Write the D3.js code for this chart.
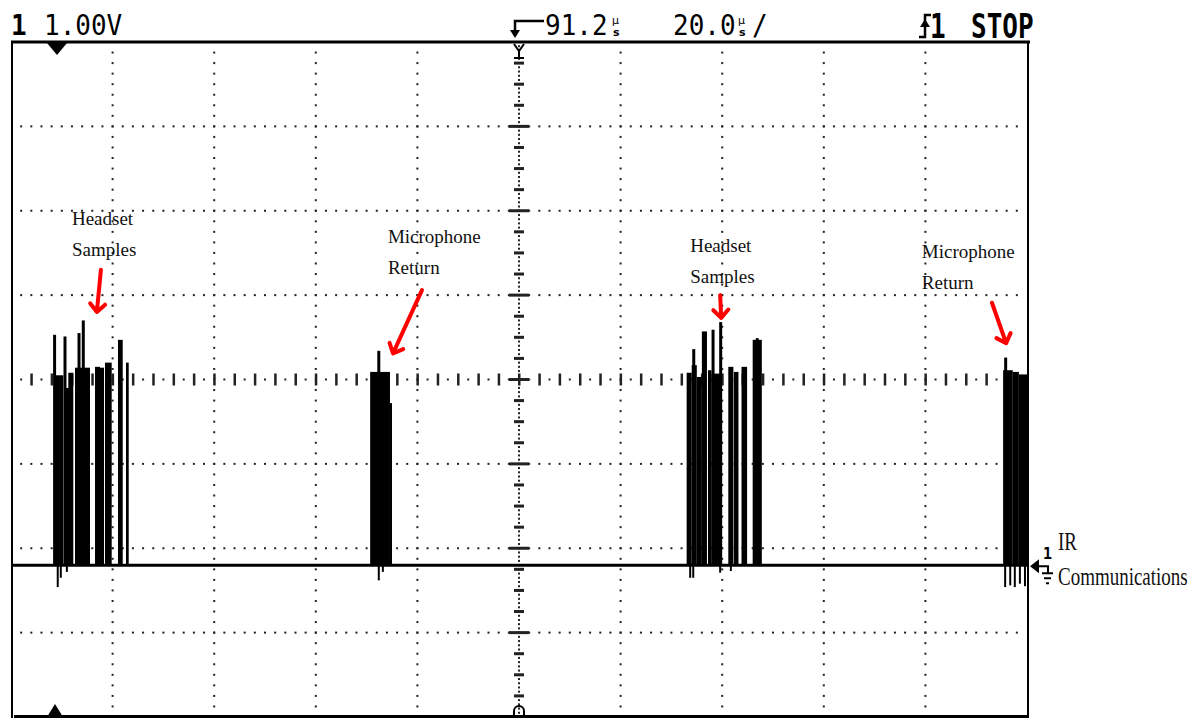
<!DOCTYPE html>
<html>
<head>
<meta charset="utf-8">
<script src="https://cdn.jsdelivr.net/npm/d3@7"></script>
<style>
  body { margin: 0; background: #fff; }
  .label { font-family: "Liberation Serif", "Times New Roman", serif; font-size: 19px; fill: #111; }
  .hdr { font-family: "DejaVu Sans Mono", monospace; font-size: 26px; fill: #000; }
</style>
</head>
<body>
<div id="container"></div>
<script>
/* SCOPE SETTINGS - 20 us/div, 91.2 us delay, 1.00 V/div */
const timeRange = [-8.8, 191.2];
const voltRange = [-1.8, 6.2];
const timeDivs = d3.range(1, 10).map(k => -8.8 + 20 * k);
const voltDivs = d3.range(1, 8).map(k => -1.8 + k);
const centerTime = 91.2;
const centerVolt = 2.2;

/* PULSE BLOCKS: [start us, end us, top V] */
const pulses = [
  // headset samples 1
  [-0.14, 1.50, 2.25], [1.83, 2.81, 2.10], [2.48, 3.46, 2.28], [3.80, 6.75, 2.34],
  [7.74, 8.72, 2.35], [8.72, 9.51, 2.34], [9.70, 11.02, 2.40], [12.26, 13.19, 2.67],
  [13.84, 14.37, 2.40],
  // microphone return 1
  [61.9, 65.8, 2.29], [65.8, 66.2, 1.92],
  // headset samples 2
  [124.2, 125.2, 2.28], [125.2, 126.2, 2.37], [126.2, 127.2, 2.23], [127.2, 128.2, 2.77],
  [128.4, 129.1, 2.31], [129.1, 131.1, 2.27], [132.4, 133.4, 2.35], [133.5, 134.4, 2.29],
  [135.0, 136.1, 2.35], [137.2, 139.0, 2.67],
  // microphone return 2
  [186.5, 188.4, 2.31], [188.4, 189.6, 2.29], [189.6, 191.2, 2.26]
];

/* NARROW SPIKES: [time us, top V] */
const spikes = [
  [-0.22, 2.73], [1.83, 2.71], [4.59, 2.75], [5.43, 2.90],
  [63.6, 2.54],
  [125.6, 2.56], [129.4, 2.79], [130.9, 2.88], [138.1, 2.69],
  [187.0, 2.46]
];

/* UNDERSHOOTS: [time us, bottom V] */
const dips = [
  [0.4, -0.26], [1.0, -0.15], [2.2, -0.08],
  [63.6, -0.18], [64.4, -0.08],
  [124.9, -0.15], [125.5, -0.15], [130.8, -0.09], [132.9, -0.07],
  [186.9, -0.26], [187.9, -0.24], [188.8, -0.26], [189.8, -0.22], [190.8, -0.25]
];

/* ANNOTATIONS */
const labelText = [["Headset", "Samples"], ["Microphone", "Return"], ["Headset", "Samples"], ["Microphone", "Return"]];
const labelTime = [3.2, 65.4, 124.9, 170.5];
const labelVolt = [4.03, 3.82, 3.71, 3.64];
// [from t, from V, to t, to V]
const arrows = [[8.9, 3.50, 8.1, 3.00], [72.1, 3.26, 66.4, 2.51], [130.8, 3.20, 131.0, 2.93], [184.3, 3.11, 187.1, 2.63]];
const headerText = ["1", "1.00V", "91.2", "20.0", "STOP"];
const groundText = ["IR", "Communications"];

const W = 1199, H = 719;
const x = d3.scaleLinear().domain(timeRange).range([11, 1027]);
const y = d3.scaleLinear().domain(voltRange).range([717, 42]);

const svg = d3.select("#container").append("svg")
  .attr("width", W).attr("height", H);
svg.append("rect").attr("width", W).attr("height", H).attr("fill", "#fff");

/* GRID DOTS */
const grid = svg.append("g").attr("fill", "#222");
voltDivs.forEach(v => {
  if (Math.abs(v - centerVolt) < 1e-6) return;
  grid.selectAll(null).data(d3.range(timeRange[0] + 2, timeRange[1], 2)).join("rect")
    .attr("x", t => x(t) - 1).attr("y", y(v) - 1).attr("width", 2).attr("height", 2);
});
timeDivs.forEach(t => {
  if (Math.abs(t - centerTime) < 1e-6) return;
  grid.selectAll(null).data(d3.range(voltRange[0] + 0.125, voltRange[1], 0.125)).join("rect")
    .attr("x", x(t) - 1).attr("y", v => y(v) - 1).attr("width", 2).attr("height", 2);
});

/* CENTER AXES WITH TICKS */
const isDiv = v => Math.abs(v - Math.round(v + 1.8) + 1.8) < 1e-6;
grid.selectAll(null).data(d3.range(timeRange[0] + 4, timeRange[1], 4)).join("rect")
  .attr("x", t => x(t) - 1).attr("y", y(centerVolt) - 6).attr("width", 2.5).attr("height", 12);
grid.selectAll(null).data(d3.range(timeRange[0] + 2, timeRange[1], 4)).join("rect")
  .attr("x", t => x(t) - 1).attr("y", y(centerVolt) - 1).attr("width", 2).attr("height", 2);
grid.selectAll(null).data(d3.range(voltRange[0] + 0.05, voltRange[1], 0.05)).join("rect")
  .attr("x", x(centerTime) - 1).attr("y", v => y(v) - 1).attr("width", 2).attr("height", 2);
grid.selectAll(null).data(d3.range(voltRange[0] + 0.25, voltRange[1], 0.25)).join("rect")
  .attr("x", v => x(centerTime) - (isDiv(v) ? 10 : 5))
  .attr("y", v => y(v) - 1.5)
  .attr("width", v => isDiv(v) ? 20 : 10)
  .attr("height", 3);

/* TRACE */
const trace = svg.append("g").attr("fill", "#000").attr("stroke", "#000");
trace.append("line")
  .attr("x1", x(timeRange[0])).attr("x2", x(timeRange[1]))
  .attr("y1", y(0)).attr("y2", y(0)).attr("stroke-width", 3);
trace.selectAll(".pulse").data(pulses).join("rect")
  .attr("class", "pulse").attr("stroke", "none")
  .attr("x", d => x(d[0])).attr("width", d => x(d[1]) - x(d[0]))
  .attr("y", d => y(d[2])).attr("height", d => y(0) - y(d[2]));
trace.selectAll(".spike").data(spikes).join("line")
  .attr("class", "spike").attr("stroke-width", 3)
  .attr("x1", d => x(d[0])).attr("x2", d => x(d[0]))
  .attr("y1", y(0)).attr("y2", d => y(d[1]));
trace.selectAll(".dip").data(dips).join("line")
  .attr("class", "dip").attr("stroke-width", 2)
  .attr("x1", d => x(d[0])).attr("x2", d => x(d[0]))
  .attr("y1", y(0)).attr("y2", d => y(d[1]));

/* FRAME */
const frame = svg.append("g").attr("stroke", "#000").attr("fill", "none");
frame.append("line").attr("x1", 11).attr("x2", 1030).attr("y1", 42).attr("y2", 42).attr("stroke-width", 3);
frame.append("line").attr("x1", 14).attr("x2", 1029).attr("y1", 716.5).attr("y2", 716.5).attr("stroke-width", 3);
frame.append("line").attr("x1", 12).attr("x2", 12).attr("y1", 42).attr("y2", 718).attr("stroke-width", 2);
frame.append("line").attr("x1", 1028).attr("x2", 1028).attr("y1", 42).attr("y2", 718).attr("stroke-width", 2);

// channel markers
svg.append("path").attr("d", "M47,43 L67,43 L57,55 Z").attr("fill", "#000");
svg.append("path").attr("d", "M47,717 L63,717 L55,704 Z").attr("fill", "#000");
// trigger markers
const cx = x(centerTime);
frame.append("path").attr("stroke-width", 2)
  .attr("d", `M${cx - 5},44 L${cx},51 L${cx + 5},44 M${cx},51 V58 M${cx - 5},58 H${cx + 5}`);
frame.append("path").attr("stroke-width", 2)
  .attr("d", `M${cx - 5},716 V711 A5,5 0 0 1 ${cx + 5},711 V716`);

/* HEADER */
const hdr = svg.append("g");
const hText = (str, px, py, bold, sy) => hdr.append("text").attr("class", "hdr")
  .attr("transform", `translate(${px},${py}) scale(1,${sy || 1.12})`)
  .attr("font-weight", bold ? "bold" : null).text(str);
hText(headerText[0], 11, 35, true);
hText(headerText[1], 44, 35);
hText(headerText[2], 545, 35);
hText(headerText[3], 673, 35);
hText("/", 752, 35);
[612, 738].forEach(px => {
  hdr.append("text").attr("x", px).attr("y", 24).attr("font-family", "DejaVu Sans").attr("font-size", 11).text("µ");
  hdr.append("text").attr("x", px + 1).attr("y", 36).attr("font-family", "DejaVu Sans").attr("font-size", 11).attr("font-weight", "bold").text("s");
});
hText("1", 930, 38, true, 1.3);
hText(headerText[4], 971, 38, true, 1.3);
// delay arrow
hdr.append("path").attr("stroke", "#000").attr("stroke-width", 2.5).attr("fill", "none")
  .attr("d", "M544,21 H515 V31");
hdr.append("path").attr("fill", "#000").attr("d", "M510,30 L520,30 L515,38 Z");
// trigger edge symbol
hdr.append("path").attr("stroke", "#000").attr("stroke-width", 2.5).attr("fill", "none")
  .attr("d", "M919,37 H925 V15 H931");
hdr.append("path").attr("fill", "#000").attr("d", "M920,27 L930,27 L925,19 Z");

/* GROUND MARKER */
const gy = y(0);
const gnd = svg.append("g").attr("stroke", "#000").attr("stroke-width", 2).attr("fill", "none");
gnd.append("path").attr("fill", "#000").attr("stroke", "none")
  .attr("d", `M1030,${gy + 1} L1039,${gy - 6} L1039,${gy + 8} Z`);
gnd.append("path").attr("d", `M1039,${gy + 1} H1048 V${gy + 8} M1042,${gy + 8} H1053 M1044,${gy + 13} H1051 M1046,${gy + 18} H1049`);
svg.append("text").attr("class", "hdr").attr("font-weight", "bold").style("font-size", "15px")
  .attr("x", 1043).attr("y", gy - 6).text("1");
svg.append("text").attr("class", "label")
  .attr("transform", `translate(1058,${gy - 15}) scale(1,1.3)`).text(groundText[0]);
svg.append("text").attr("class", "label")
  .attr("transform", `translate(1058,${gy + 20}) scale(1,1.3)`).text(groundText[1]);

/* LABELS */
labelText.forEach((lines, i) => {
  const t = svg.append("text").attr("class", "label")
    .attr("x", x(labelTime[i])).attr("y", y(labelVolt[i]));
  lines.forEach((s, j) => t.append("tspan").attr("x", x(labelTime[i])).attr("dy", j ? 31 : 0).text(s));
});

/* RED ARROWS */
const arrowG = svg.append("g").attr("stroke", "#f00").attr("stroke-width", 4)
  .attr("fill", "none").attr("stroke-linecap", "round").attr("stroke-linejoin", "round");
arrows.forEach(a => {
  const x0 = x(a[0]), y0 = y(a[1]), x1 = x(a[2]), y1 = y(a[3]);
  const ang = Math.atan2(y0 - y1, x0 - x1);
  const b = 11, spread = 0.75;
  const bx1 = x1 + b * Math.cos(ang + spread), by1 = y1 + b * Math.sin(ang + spread);
  const bx2 = x1 + b * Math.cos(ang - spread), by2 = y1 + b * Math.sin(ang - spread);
  arrowG.append("path").attr("d", `M${x0},${y0} L${x1},${y1} M${bx1},${by1} L${x1},${y1} L${bx2},${by2}`);
});
</script>
</body>
</html>
